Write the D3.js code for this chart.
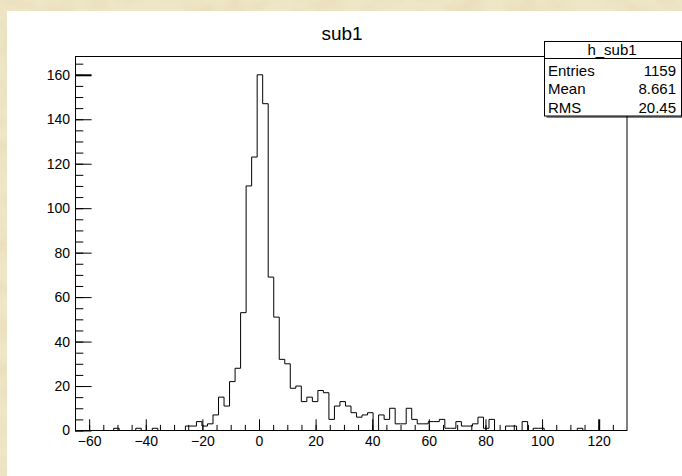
<!DOCTYPE html>
<html>
<head>
<meta charset="utf-8">
<script src="https://cdn.jsdelivr.net/npm/d3@7"></script>
<style>
	body { margin: 0; padding: 0; overflow: hidden; }
	svg { display: block; }
	text { font-family: "Liberation Sans", Arial, Helvetica, sans-serif; }
</style>
</head>
<body>
<script>
// histogram h_sub1 : 100 bins from -65 to 130
var binLow = -65, binHigh = 130;
var counts = [
	0, 0, 0, 0, 0, 0, 0, 1, 0, 0,
	0, 1, 0, 0, 1, 0, 0, 0, 0, 0,
	2, 2, 4, 2, 3, 7, 15, 11, 22, 28,
	53, 110, 123, 160, 147, 69, 51, 32, 30, 19,
	20, 13, 15, 13, 18, 17, 5, 11, 13, 11,
	8, 6, 7, 8, 0, 7, 5, 10, 3, 3,
	10, 5, 3, 3, 4, 4, 5, 1, 1, 4,
	2, 2, 3, 6, 1, 5, 0, 0, 2, 2,
	0, 4, 0, 1, 1, 0, 0, 0, 0, 0,
	0, 1, 0, 0, 0, 0, 0, 0, 0, 0
];
var yMax = 168;

// axis ticks
var xTicks = [-60, -40, -20, 0, 20, 40, 60, 80, 100, 120];
var yTicks = [0, 20, 40, 60, 80, 100, 120, 140, 160];

// stats box
var histName = "h_sub1";
var statNames = ["Entries", "Mean", "RMS"];
var statValues = ["1159", "8.661", "20.45"];
var title = "sub1";

var width = 682, height = 476;
var frame = { left: 75, right: 627, top: 57, bottom: 430.5 };

var svg = d3.select("body").
	append("svg").
	attr("width", width).
	attr("height", height);

// paper background
var defs = svg.append("defs");
var filt = defs.append("filter").attr("id", "paper")
	.attr("x", 0).attr("y", 0).attr("width", "100%").attr("height", "100%");
filt.append("feTurbulence")
	.attr("type", "fractalNoise")
	.attr("baseFrequency", "0.035 0.05")
	.attr("numOctaves", 3)
	.attr("seed", 7);
filt.append("feColorMatrix")
	.attr("type", "matrix")
	.attr("values", "0 0 0 0 0.72  0 0 0 0 0.62  0 0 0 0 0.38  0.7 0 0 0 -0.28");

svg.append("rect").attr("width", width).attr("height", height).attr("fill", "#efe6c6");
svg.append("rect").attr("width", width).attr("height", height).attr("filter", "url(#paper)");

// white canvas
svg.append("rect")
	.attr("x", 7).attr("y", 11)
	.attr("width", width - 7).attr("height", height - 11)
	.attr("fill", "#ffffff");

var x = d3.scaleLinear().domain([binLow, binHigh]).range([frame.left, frame.right]);
var y = d3.scaleLinear().domain([0, yMax]).range([frame.bottom, frame.top]);

// title
svg.append("text")
	.attr("x", 342).attr("y", 40)
	.attr("text-anchor", "middle")
	.style("font-size", "19px")
	.text(title);

// histogram outline
var binWidth = (binHigh - binLow) / counts.length;
var pts = [[binLow, 0]];
counts.forEach(function (c, i) {
	pts.push([binLow + i * binWidth, c]);
});
pts.push([binHigh, counts[counts.length - 1]]);
pts.push([binHigh, 0]);

var line = d3.line()
	.x(function (d) { return x(d[0]); })
	.y(function (d) { return y(d[1]); })
	.curve(d3.curveStepAfter);

svg.append("path")
	.attr("d", line(pts))
	.attr("fill", "none")
	.attr("stroke", "#000")
	.attr("stroke-width", 1);

// y axis, ticks pointing into the frame
var yMinor = d3.range(0, yMax, 5);
svg.append("g")
	.attr("transform", "translate(" + frame.left + ",0)")
	.call(d3.axisLeft(y).tickValues(yMinor).tickSize(-8.3).tickFormat(""))
	.call(function (g) { g.select(".domain").remove(); });
var yAxis = svg.append("g")
	.attr("transform", "translate(" + frame.left + ",0)")
	.call(d3.axisLeft(y).tickValues(yTicks).tickSize(-16.6).tickPadding(5))
	.call(function (g) { g.select(".domain").remove(); });

// x axis
var xMinor = d3.range(-65, binHigh, 5);
svg.append("g")
	.attr("transform", "translate(0," + frame.bottom + ")")
	.call(d3.axisBottom(x).tickValues(xMinor).tickSize(-5.6).tickFormat(""))
	.call(function (g) { g.select(".domain").remove(); });
var xAxis = svg.append("g")
	.attr("transform", "translate(0," + frame.bottom + ")")
	.call(d3.axisBottom(x).tickValues(xTicks).tickSize(-11.2).tickPadding(6))
	.call(function (g) { g.select(".domain").remove(); });

svg.selectAll(".tick line").attr("stroke", "#000");
svg.selectAll(".tick text")
	.attr("fill", "#000")
	.style("font-size", "14px")
	.style("font-family", "'Liberation Sans', Arial, sans-serif");

// the end ticks look heavier in the original
yAxis.selectAll(".tick line").filter(function (d) { return d === 160; }).attr("stroke-width", 2);
xAxis.selectAll(".tick line").filter(function (d) { return d === 120; }).attr("stroke-width", 2);

// frame
svg.append("rect")
	.attr("x", frame.left + 0.5).attr("y", frame.top - 0.5)
	.attr("width", frame.right - frame.left - 0.5)
	.attr("height", frame.bottom - frame.top + 0.5)
	.attr("fill", "none")
	.attr("stroke", "#000");

// stats box
var box = { x: 544.5, y: 41.5, w: 137, h: 74.5, head: 58 };
svg.append("line")
	.attr("x1", box.x + 2).attr("x2", width)
	.attr("y1", box.y + box.h + 1).attr("y2", box.y + box.h + 1)
	.attr("stroke", "#000");
svg.append("rect")
	.attr("x", box.x).attr("y", box.y)
	.attr("width", box.w).attr("height", box.h)
	.attr("fill", "#fff").attr("stroke", "#000");
svg.append("line")
	.attr("x1", box.x).attr("x2", box.x + box.w)
	.attr("y1", box.head + 0.5).attr("y2", box.head + 0.5)
	.attr("stroke", "#000");
svg.append("text")
	.attr("x", 612).attr("y", 55)
	.attr("text-anchor", "middle")
	.style("font-size", "15px")
	.text(histName);

var rows = svg.selectAll(".stat").data(statNames).enter().append("g").attr("class", "stat");
rows.append("text")
	.attr("x", 548)
	.attr("y", function (d, i) { return 75.5 + i * 18.7; })
	.style("font-size", "15px")
	.text(function (d) { return d; });
rows.append("text")
	.attr("x", 676)
	.attr("y", function (d, i) { return 75.5 + i * 18.7; })
	.attr("text-anchor", "end")
	.style("font-size", "15px")
	.text(function (d, i) { return statValues[i]; });
</script>
</body>
</html>
